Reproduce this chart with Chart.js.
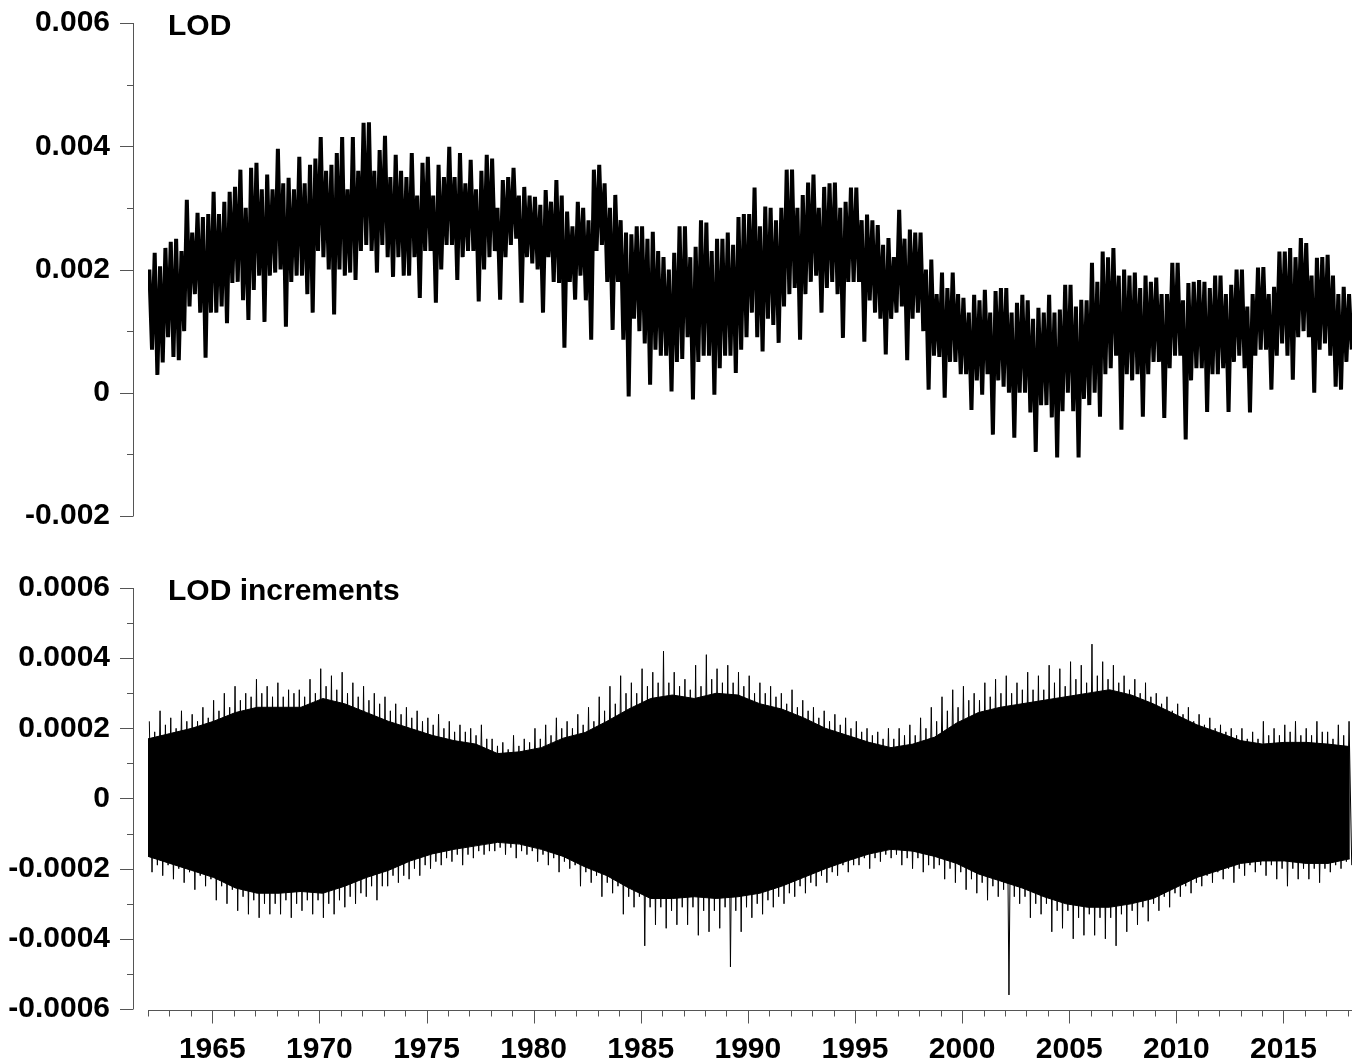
<!DOCTYPE html>
<html>
<head>
<meta charset="utf-8">
<script src="https://cdn.jsdelivr.net/npm/chart.js@4.4.1/dist/chart.umd.min.js"></script>
<style>
  html, body { margin: 0; padding: 0; background: #fff; }
  #wrap { position: relative; width: 1353px; height: 1060px; }
  #topChart { position: absolute; left: 0; top: 0; }
  #bottomChart { position: absolute; left: 0; top: 540px; }
</style>
</head>
<body>
<div id="wrap">
  <canvas id="topChart" width="1353" height="540"></canvas>
  <canvas id="bottomChart" width="1353" height="520"></canvas>
</div>
<script>
// LOD: quarterly highs / lows in ms (1962 Q1 .. 2018 Q1)
const lodStart = 1962.0;
const lodStep = 0.25;
const lodHigh = [
  2.0, 2.27, 2.05, 2.35,  2.45, 2.5, 2.3, 3.13,  2.6, 2.92, 2.85, 2.9,  3.26, 2.9, 3.1, 3.26,
  3.34, 3.62, 3.0, 3.65,  3.73, 3.3, 3.54, 3.3,  3.96, 3.4, 3.49, 3.3,  3.83, 3.4, 3.7, 3.8,
  4.15, 3.6, 3.7, 3.89,  4.15, 3.3, 4.15, 3.6,  4.38, 4.39, 3.6, 3.94,  4.17, 3.5, 3.86, 3.6,
  3.5, 3.89, 3.2, 3.73,  3.83, 3.2, 3.7, 3.5,  3.99, 3.5, 3.89, 3.4,  3.78, 3.3, 3.6, 3.86,
  3.8, 3.0, 3.45, 3.5,  3.65, 3.2, 3.34, 3.2,  3.18, 3.05, 3.29, 3.1,  3.45, 3.2, 2.94, 2.7,
  3.1, 3.0, 2.8, 3.62,  3.7, 3.4, 3.0, 3.21,  2.8, 2.6, 2.57, 2.7,  2.7, 2.5, 2.61, 2.3,
  2.2, 2.0, 2.27, 2.7,  2.7, 2.2, 2.37, 2.8,  2.76, 2.3, 2.5, 2.5,  2.6, 2.4, 2.85, 2.9,
  2.9, 3.33, 2.7, 3.02,  3.0, 2.8, 3.0, 3.62,  3.62, 3.0, 3.21, 3.41,  3.54, 3.0, 3.34, 3.4,
  3.41, 3.0, 3.1, 3.33,  3.33, 2.8, 2.89, 2.8,  2.72, 2.4, 2.51, 2.2,  2.97, 2.5, 2.65, 2.6,
  2.6, 2.0, 2.16, 1.6,  1.95, 1.7, 1.95, 1.6,  1.54, 1.3, 1.59, 1.5,  1.67, 1.3, 1.65, 1.7,
  1.7, 1.3, 1.46, 1.59,  1.5, 1.2, 1.38, 1.3,  1.59, 1.3, 1.35, 1.75,  1.75, 1.4, 1.51, 1.5,
  2.11, 1.8, 2.29, 2.2,  2.35, 1.9, 2.0, 1.9,  1.95, 1.7, 1.9, 1.8,  1.87, 1.6, 1.6, 2.11,
  2.11, 1.5, 1.78, 1.8,  1.83, 1.8, 1.7, 1.9,  1.9, 1.6, 1.75, 2.0,  2.0, 1.4, 1.6, 2.03,
  2.04, 1.6, 1.72, 2.29,  2.29, 2.35, 2.2, 2.51,  2.43, 1.9, 2.19, 2.2,  2.24, 1.9, 1.6, 1.72,
  1.6
];
const lodLow = [
  0.7, 0.29, 0.49, 0.9,  0.58, 0.53, 1.0, 1.4,  1.6, 1.3, 0.57, 1.3,  1.3, 1.4, 1.13, 1.78,
  1.8, 1.5, 1.18, 1.67,  1.9, 1.15, 1.9, 1.95,  2.0, 1.07, 1.8, 1.9,  1.9, 1.6, 1.3, 2.3,
  2.2, 2.0, 1.27, 2.0,  1.9, 1.95, 1.83, 2.3,  2.4, 2.3, 1.95, 2.4,  2.2, 1.88, 2.2, 1.9,
  1.9, 2.2, 1.54, 2.3,  2.3, 1.46, 2.0, 2.4,  2.4, 1.83, 2.2, 2.3,  2.3, 1.48, 2.0, 2.2,
  2.3, 1.51, 2.2, 2.4,  2.5, 1.46, 2.2, 2.1,  2.0, 1.3, 2.2, 1.8,  1.78, 0.73, 1.8, 1.51,
  1.9, 1.5, 0.86, 2.3,  2.4, 1.8, 1.02, 1.8,  0.86, -0.06, 1.2, 1.0,  0.8, 0.13, 0.7, 0.6,
  0.6, 0.02, 0.5, 0.55,  0.9, -0.11, 0.5, 0.6,  0.6, -0.03, 0.4, 0.6,  0.6, 0.32, 0.7, 0.9,
  1.3, 0.9, 0.67, 1.2,  1.1, 0.81, 1.4, 1.6,  1.7, 0.86, 1.6, 1.8,  1.9, 1.3, 1.7, 1.8,
  1.6, 0.89, 1.8, 1.8,  1.8, 0.83, 1.5, 1.3,  1.2, 0.62, 1.2, 1.3,  1.4, 0.53, 1.2, 1.3,
  1.0, 0.05, 0.6, 0.58,  -0.08, 0.5, 0.5, 0.3,  0.3, -0.28, 0.2, -0.03,  0.3, -0.68, 0.2, 0.1,
  0.0, -0.73, 0.0, 0.0,  -0.32, -0.96, -0.2, -0.2,  -0.4, -1.05, -0.3, 0.0,  -0.3, -1.05, -0.1, -0.2,
  0.0, -0.39, 0.3, 0.4,  0.6, -0.6, 0.3, 0.2,  0.3, -0.39, 0.3, 0.5,  0.5, -0.41, 0.4, 0.6,
  0.6, -0.76, 0.2, 0.4,  0.4, -0.31, 0.3, 0.3,  0.4, -0.31, 0.5, 0.6,  0.4, -0.32, 0.6, 0.7,
  0.7, 0.05, 0.6, 0.8,  0.6, 0.21, 0.9, 1.0,  0.9, 0.0, 0.7, 0.8,  0.6, 0.1, 0.05, 0.5,
  0.7
];

// LOD increments, units of 1e-4
// solid part of the band, one edge value per year (1962 .. 2017)
const incCoreHigh = [
  1.7, 1.85, 2.0, 2.2, 2.45, 2.6, 2.6, 2.6, 2.85, 2.7,
  2.45, 2.2, 2.0, 1.8, 1.65, 1.55, 1.28, 1.33, 1.45, 1.72,
  1.88, 2.2, 2.55, 2.85, 2.95, 2.85, 3.0, 2.95, 2.7, 2.55,
  2.3, 2.0, 1.8, 1.6, 1.45, 1.55, 1.75, 2.15, 2.45, 2.6,
  2.7, 2.8, 2.9, 3.0, 3.1, 2.95, 2.7, 2.4, 2.1, 1.88,
  1.65, 1.55, 1.6, 1.6, 1.55, 1.48
];
const incCoreLow = [
  -1.65, -1.85, -2.05, -2.25, -2.55, -2.7, -2.7, -2.65, -2.7, -2.5,
  -2.25, -2.05, -1.78, -1.58, -1.45, -1.35, -1.25, -1.3, -1.45, -1.65,
  -1.95, -2.2, -2.55, -2.85, -2.85, -2.8, -2.85, -2.8, -2.7, -2.5,
  -2.25, -2.0, -1.78, -1.58, -1.45, -1.5, -1.65, -1.85, -2.15, -2.35,
  -2.55, -2.8, -3.0, -3.1, -3.1, -3.0, -2.85, -2.55, -2.25, -2.05,
  -1.85, -1.78, -1.78, -1.85, -1.85, -1.72
];
// spikes beyond the solid part, quarterly (1962 Q1 .. 2018 Q1)
const incSpikeStart = 1962.0;
const incSpikeStep = 0.25;
const incSpikeHigh = [
  2.2, 1.9, 2.5, 2.1,  2.3, 2.0, 2.5, 2.2,  2.4, 2.2, 2.6, 2.3,  2.8, 2.5, 3.0, 2.6,
  3.2, 2.8, 3.0, 2.9,  3.4, 3.0, 3.2, 2.9,  3.3, 2.9, 3.1, 3.0,  3.1, 2.9, 3.4, 3.0,
  3.7, 3.2, 3.5, 3.1,  3.6, 3.0, 3.3, 2.9,  3.2, 2.8, 3.0, 2.7,  2.9, 2.5, 2.7, 2.4,
  2.6, 2.3, 2.5, 2.2,  2.3, 2.1, 2.4, 2.0,  2.2, 1.9, 2.1, 1.9,  2.0, 1.8, 2.1, 1.7,
  1.7, 1.5, 1.6, 1.4,  1.8, 1.5, 1.7, 1.6,  2.0, 1.7, 2.1, 1.8,  2.3, 2.0, 2.2, 2.0,
  2.4, 2.1, 2.6, 2.2,  2.9, 2.5, 3.2, 2.7,  3.5, 3.0, 3.3, 3.0,  3.7, 3.2, 3.6, 3.3,
  4.2, 3.3, 3.6, 3.2,  3.4, 3.1, 3.8, 3.2,  4.1, 3.4, 3.7, 3.3,  3.8, 3.3, 3.6, 3.2,
  3.5, 3.0, 3.3, 3.0,  3.2, 2.9, 3.0, 2.7,  3.1, 2.6, 2.8, 2.5,  2.6, 2.3, 2.5, 2.2,
  2.4, 2.1, 2.3, 2.0,  2.2, 1.9, 2.0, 1.8,  1.9, 1.7, 2.0, 1.7,  2.0, 1.8, 2.1, 1.8,
  2.3, 2.0, 2.6, 2.2,  2.9, 2.5, 3.1, 2.6,  3.2, 2.8, 3.0, 2.8,  3.3, 2.9, 3.4, 3.0,
  3.5, 3.0, 3.3, 3.1,  3.6, 3.1, 3.5, 3.1,  3.8, 3.3, 3.7, 3.2,  3.9, 3.4, 3.8, 3.3,
  4.4, 3.5, 3.9, 3.4,  3.8, 3.3, 3.5, 3.1,  3.4, 3.0, 3.3, 2.9,  3.0, 2.7, 2.9, 2.5,
  2.7, 2.4, 2.6, 2.2,  2.4, 2.1, 2.3, 2.0,  2.1, 1.9, 2.0, 1.8,  2.0, 1.7, 1.9, 1.7,
  2.2, 1.8, 2.0, 1.8,  2.1, 1.9, 2.2, 1.8,  2.0, 1.8, 2.2, 1.9,  1.9, 1.7, 2.1, 1.8,
  2.2
];
const incSpikeLow = [
  -2.1, -1.9, -2.2, -1.9,  -2.3, -2.0, -2.4, -2.1,  -2.6, -2.2, -2.5, -2.3,  -2.9, -2.5, -3.0, -2.6,
  -3.2, -2.8, -3.3, -2.9,  -3.4, -3.0, -3.3, -3.0,  -3.3, -2.9, -3.4, -3.0,  -3.2, -2.9, -3.3, -2.9,
  -3.4, -3.0, -3.3, -2.9,  -3.1, -2.8, -3.0, -2.7,  -2.8, -2.5, -2.9, -2.5,  -2.5, -2.2, -2.4, -2.2,
  -2.3, -2.0, -2.2, -1.9,  -2.0, -1.8, -1.9, -1.7,  -1.8, -1.6, -1.9, -1.6,  -1.7, -1.5, -1.6, -1.5,
  -1.5, -1.4, -1.6, -1.4,  -1.7, -1.5, -1.6, -1.5,  -1.8, -1.6, -1.9, -1.7,  -2.1, -1.8, -2.0, -1.9,
  -2.5, -2.1, -2.4, -2.2,  -2.8, -2.4, -2.7, -2.5,  -3.3, -2.8, -3.1, -2.8,  -4.2, -3.1, -3.6, -3.1,
  -3.7, -3.2, -3.6, -3.1,  -3.6, -3.1, -3.9, -3.2,  -3.8, -3.2, -3.7, -3.1,  -4.8, -3.2, -3.8, -3.1,
  -3.4, -3.0, -3.3, -2.9,  -3.1, -2.8, -3.0, -2.7,  -2.8, -2.5, -2.7, -2.4,  -2.5, -2.2, -2.4, -2.1,
  -2.2, -1.9, -2.1, -1.9,  -1.9, -1.7, -2.0, -1.7,  -1.8, -1.6, -1.7, -1.6,  -1.9, -1.7, -2.0, -1.7,
  -2.1, -1.9, -2.0, -1.9,  -2.3, -2.0, -2.4, -2.1,  -2.6, -2.3, -2.7, -2.4,  -2.9, -2.5, -2.8, -2.6,
  -5.6, -2.8, -3.0, -2.8,  -3.4, -3.0, -3.3, -3.0,  -3.8, -3.2, -3.7, -3.2,  -4.0, -3.4, -3.9, -3.3,
  -3.9, -3.4, -4.0, -3.4,  -4.2, -3.3, -3.8, -3.2,  -3.6, -3.1, -3.5, -3.0,  -3.2, -2.8, -3.1, -2.7,
  -2.8, -2.5, -2.7, -2.4,  -2.5, -2.2, -2.4, -2.1,  -2.3, -2.0, -2.4, -2.0,  -2.2, -1.9, -2.1, -1.9,
  -2.2, -1.9, -2.3, -2.0,  -2.5, -2.0, -2.3, -2.0,  -2.3, -2.0, -2.4, -2.0,  -2.1, -1.9, -2.0, -1.8,
  -1.9
];

const yearTicks = [1965, 1970, 1975, 1980, 1985, 1990, 1995, 2000, 2005, 2010, 2015];
const lodTicks = [-0.002, 0, 0.002, 0.004, 0.006];
const incTicks = [-0.0006, -0.0004, -0.0002, 0, 0.0002, 0.0004, 0.0006];

const xMin = 1962;
const xMax = 2018.2;
const dataEnd = 2018.1;
const fontFamily = '"Liberation Sans", Arial, Helvetica, sans-serif';
const fontSize = 30;
const axisColor = '#555';

// turn high / low pairs into one up-down trace
function zigzag(start, step, high, low, unit) {
  let pts = [];
  for (let i = 0; i < high.length; i++) {
    let t = start + i * step;
    pts.push({x: t + step * 0.25, y: high[i] * unit});
    pts.push({x: t + step * 0.75, y: low[i] * unit});
  }
  return pts;
}

// yearly edge values spread over the whole data span
function edge(values, unit) {
  let span = (dataEnd - xMin) / (values.length - 1);
  return values.map((v, i) => ({x: xMin + i * span, y: v * unit}));
}

function fmt(v) {
  if (Math.abs(v) < 1e-12) return '0';
  return String(+v.toFixed(4));
}

// axis lines, tick marks and the panel label are drawn here
function axesPlugin(title, titleBaseline, minorStep, showX) {
  return {
    id: 'axes_' + title.replace(/\s/g, ''),
    afterDraw(chart) {
      const ctx = chart.ctx;
      const ys = chart.scales.y;
      const xs = chart.scales.x;
      const area = chart.chartArea;
      const axisX = area.left - 15;
      ctx.save();
      ctx.strokeStyle = axisColor;
      ctx.lineWidth = 1;
      ctx.beginPath();
      ctx.moveTo(axisX + 0.5, ys.getPixelForValue(ys.max));
      ctx.lineTo(axisX + 0.5, ys.getPixelForValue(ys.min));
      // y ticks, major and minor
      let n = Math.round((ys.max - ys.min) / minorStep);
      for (let i = 0; i <= n; i++) {
        let py = Math.round(ys.getPixelForValue(ys.min + i * minorStep)) + 0.5;
        let len = (i % 2 === 0) ? 13 : 6;
        ctx.moveTo(axisX - len, py);
        ctx.lineTo(axisX + 0.5, py);
      }
      ctx.stroke();

      if (showX) {
        const axisY = Math.round(area.bottom) + 1.5;
        ctx.beginPath();
        ctx.moveTo(xs.getPixelForValue(xMin), axisY);
        ctx.lineTo(xs.getPixelForValue(xMax), axisY);
        for (let yr = 1962; yr <= 2018; yr++) {
          let px = Math.round(xs.getPixelForValue(yr)) + 0.5;
          let len = (yr % 5 === 0) ? 13 : 6;
          ctx.moveTo(px, axisY);
          ctx.lineTo(px, axisY + len);
        }
        ctx.stroke();
      }

      ctx.fillStyle = '#000';
      ctx.font = 'bold ' + fontSize + 'px ' + fontFamily;
      ctx.textAlign = 'left';
      ctx.textBaseline = 'alphabetic';
      ctx.fillText(title, area.left + 20, titleBaseline);
      ctx.restore();
    }
  };
}

// tick labels sit 38px left of the plot; the gap comes from an invisible tick length
function yScale(min, max, ticks) {
  return {
    type: 'linear',
    min: min,
    max: max,
    afterBuildTicks: function(scale) {
      scale.ticks = ticks.map(v => ({value: v}));
    },
    afterFit: function(scale) {
      scale.width = 148;
    },
    grid: {display: false, drawTicks: true, tickLength: 38},
    border: {display: false},
    ticks: {
      color: '#000',
      padding: 0,
      font: {family: fontFamily, size: fontSize, weight: 'bold'},
      callback: function(v) { return fmt(v); }
    }
  };
}

document.addEventListener("DOMContentLoaded", function(){

    const topChart = new Chart(document.getElementById('topChart'), {
        type: 'line',
        data: {
            datasets: [{
                label: 'LOD',
                data: zigzag(lodStart, lodStep, lodHigh, lodLow, 0.001),
                borderColor: '#000',
                borderWidth: 4,
                borderJoinStyle: 'bevel',
                pointRadius: 0,
                tension: 0
            }]
        },
        options: {
            responsive: false,
            animation: false,
            layout: {padding: {top: 23, right: 1, bottom: 24, left: 0}},
            plugins: {legend: {display: false}, tooltip: {enabled: false}},
            scales: {
                x: {type: 'linear', min: xMin, max: xMax, display: false},
                y: yScale(-0.002, 0.006, lodTicks)
            }
        },
        plugins: [axesPlugin('LOD', 35, 0.001, false)]
    });

    const bottomChart = new Chart(document.getElementById('bottomChart'), {
        type: 'line',
        data: {
            datasets: [{
                label: 'band top',
                data: edge(incCoreHigh, 0.0001),
                borderColor: '#000',
                borderWidth: 1,
                pointRadius: 0,
                tension: 0,
                fill: false
            }, {
                label: 'band bottom',
                data: edge(incCoreLow, 0.0001),
                borderColor: '#000',
                backgroundColor: '#000',
                borderWidth: 1,
                pointRadius: 0,
                tension: 0,
                fill: '-1'
            }, {
                label: 'LOD increments',
                data: zigzag(incSpikeStart, incSpikeStep, incSpikeHigh, incSpikeLow, 0.0001),
                borderColor: '#000',
                borderWidth: 1,
                borderJoinStyle: 'bevel',
                pointRadius: 0,
                tension: 0,
                fill: false
            }]
        },
        options: {
            responsive: false,
            animation: false,
            layout: {padding: {top: 48, right: 1, bottom: 0, left: 0}},
            plugins: {legend: {display: false}, tooltip: {enabled: false}},
            scales: {
                x: {
                    type: 'linear',
                    min: xMin,
                    max: xMax,
                    afterBuildTicks: function(scale) {
                        scale.ticks = yearTicks.map(v => ({value: v}));
                    },
                    afterFit: function(scale) {
                        scale.height = 51;
                    },
                    grid: {display: false, drawTicks: true, tickLength: 23},
                    border: {display: false},
                    ticks: {
                        color: '#000',
                        padding: 0,
                        maxRotation: 0,
                        autoSkip: false,
                        font: {family: fontFamily, size: fontSize, weight: 'bold'},
                        callback: function(v) { return String(v); }
                    }
                },
                y: yScale(-0.0006, 0.0006, incTicks)
            }
        },
        plugins: [axesPlugin('LOD increments', 60, 0.0001, true)]
    });
});
</script>
</body>
</html>
